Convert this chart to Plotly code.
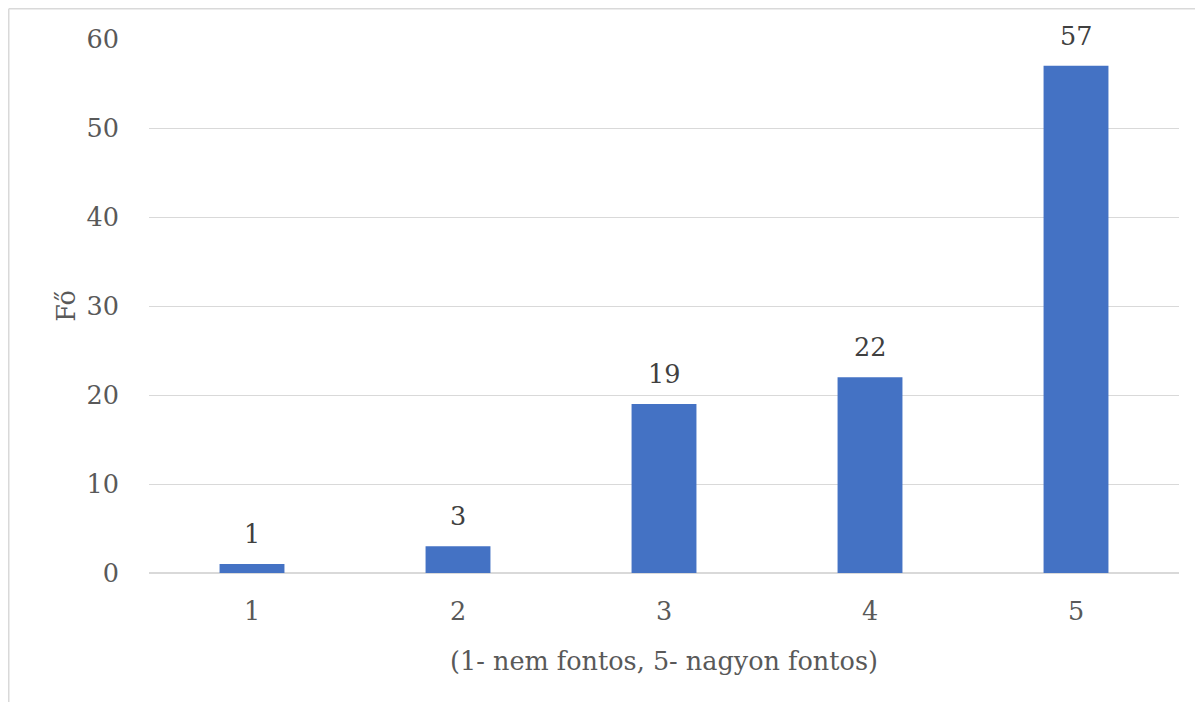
import plotly.graph_objects as go

categories = ["1", "2", "3", "4", "5"]
values = [1, 3, 19, 22, 57]
y_ticks = [0, 10, 20, 30, 40, 50, 60]
x_title = "(1- nem fontos, 5- nagyon fontos)"
y_title = "Fő"

FONT = "DejaVu Serif"
FS = 25.5
W, H = 1203, 702
# page body has an 8px margin; compensate so the plot lands where the reference has it
L, R, T, B = 141, 32, 31, 137
pw, ph = W - L - R, H - T - B

fig = go.Figure()
fig.add_trace(go.Bar(
    x=categories, y=values,
    marker=dict(color="#4472C4", line=dict(width=0)),
    width=0.315,
))

for i, (c, v) in enumerate(zip(categories, values)):
    fig.add_annotation(x=i, y=v, text=str(v), showarrow=False,
                       xref="x", yref="y",
                       yanchor="bottom", yshift=13,
                       font=dict(family=FONT, size=FS, color="#404040"))

def px_x(p):
    return (p - L) / pw

def px_y(p):
    return 1 - (p - T) / ph

fig.add_shape(type="line", xref="paper", yref="paper",
              x0=px_x(0.75), x1=px_x(1220), y0=px_y(0.75), y1=px_y(0.75),
              line=dict(color="#D9D9D9", width=1.5))
fig.add_shape(type="line", xref="paper", yref="paper",
              x0=px_x(0.75), x1=px_x(0.75), y0=px_y(0.75), y1=px_y(720),
              line=dict(color="#D9D9D9", width=1.5))

fig.update_layout(
    width=W, height=H,
    margin=dict(l=L, r=R, t=T, b=B, autoexpand=False),
    plot_bgcolor="white", paper_bgcolor="white",
    showlegend=False,
    bargap=0.685,
    font=dict(family=FONT, size=FS, color="#595959"),
    xaxis=dict(
        type="category", automargin=False,
        showgrid=False, showline=False, ticks="", ticklabelstandoff=20,
        tickfont=dict(family=FONT, size=FS, color="#595959"),
        title=dict(text=x_title, font=dict(family=FONT, size=FS, color="#595959"), standoff=27),
    ),
    yaxis=dict(
        range=[0, 60], tickvals=y_ticks, automargin=False,
        showgrid=True, gridcolor="#D9D9D9", gridwidth=1.3,
        zeroline=True, zerolinecolor="#D9D9D9", zerolinewidth=1.5,
        showline=False, ticks="", ticklabelstandoff=29,
        tickfont=dict(family=FONT, size=FS, color="#595959"),
        title=dict(text=y_title, font=dict(family=FONT, size=FS, color="#595959"), standoff=3),
    ),
)

fig.write_html("out.html")
